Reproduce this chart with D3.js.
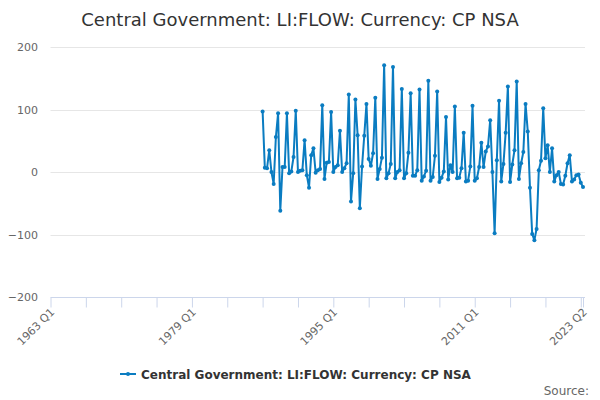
<!DOCTYPE html>
<html>
<head>
<meta charset="utf-8">
<script src="https://cdn.jsdelivr.net/npm/d3@7"></script>
<style>
  body { margin: 0; background: #fff; }
  svg { font-family: "DejaVu Sans", sans-serif; }
</style>
</head>
<body>
<svg width="600" height="400"></svg>
<script>
// axis runs 1963 Q1 .. 2023 Q2, data starts 1987 Q1
var firstYear = 1963, lastYear = 2023, lastQuarter = 2;
var dataStart = "1987 Q1";
var tickLabels = ["1963 Q1", "1979 Q1", "1995 Q1", "2011 Q1", "2023 Q2"];
var yTicks = [-200, -100, 0, 100, 200];
var seriesName = "Central Government: LI:FLOW: Currency: CP NSA";

// quarterly values, 1987 Q1 onwards
var values = [
  97, 7, 6, 35,
  0, -19, 56, 94,
  -62, 8, 8, 94,
  -2, 1, 24, 98,
  0, 2, 3, 51,
  -5, -25, 27, 38,
  -1, 3, 5, 107,
  -11, 15, 16, 96,
  0, 8, 11, 66,
  0, 6, 14, 124,
  -47, -2, 116, 59,
  -58, 9, 58, 109,
  21, 10, 30, 119,
  -11, 5, 23, 171,
  -10, -2, 13, 168,
  -10, 0, 3, 133,
  -10, -2, 31, 126,
  -6, -6, 3, 132,
  -14, -7, 2, 146,
  -14, -8, 26, 129,
  -16, -9, 1, 88,
  -12, 11, 0, 105,
  -10, -9, 6, 63,
  -15, -14, 9, 106,
  -14, -10, 8, 47,
  8, 33, 41, 83,
  0, -98, 19, 114,
  -15, 13, 63, 137,
  -16, 12, 35, 145,
  -11, 14, 32, 109,
  65, -25, -99, -109,
  -91, 3, 18, 102,
  22, 43, 0, 38,
  -15, -5, 0, -19,
  -20, -6, 14, 27,
  -15, -12, -5, -4,
  -17, -24
];

var categories = [];
for (var yr = firstYear; yr <= lastYear; yr++) {
  for (var q = 1; q <= 4; q++) {
    if (yr == lastYear && q > lastQuarter) break;
    categories.push(yr + " Q" + q);
  }
}
var startIdx = categories.indexOf(dataStart);
var points = values.map(function (v, i) { return { cat: categories[startIdx + i], v: v }; });

var svg = d3.select("svg");
var color = "#0a7cc1";

var x = d3.scalePoint().domain(categories).range([50.5, 583]);
var y = d3.scaleLinear().domain([-200, 200]).range([297, 47]);

// title
svg.append("text")
  .attr("x", 300).attr("y", 26)
  .attr("text-anchor", "middle")
  .attr("font-size", 18).attr("fill", "#333333")
  .text(seriesName);

// grid lines
svg.append("g").selectAll("line")
  .data(yTicks.filter(function (d) { return d != -200; }))
  .enter().append("line")
  .attr("x1", 50.5).attr("x2", 585)
  .attr("y1", function (d) { return Math.round(y(d)) + 0.5; })
  .attr("y2", function (d) { return Math.round(y(d)) + 0.5; })
  .attr("stroke", "#e6e6e6").attr("stroke-width", 1);

// y axis labels
var yAxis = svg.append("g")
  .attr("transform", "translate(38,0)")
  .call(d3.axisLeft(y).tickValues(yTicks).tickSize(0).tickPadding(0));
yAxis.select(".domain").remove();
yAxis.selectAll("text")
  .attr("font-size", 11).attr("fill", "#666666")
  .attr("font-family", "DejaVu Sans, sans-serif");

// x axis
var tickVals = categories.filter(function (d, i) { return i % 16 == 0; });
tickVals.push(categories[categories.length - 1]);
var xAxis = svg.append("g")
  .attr("transform", "translate(0,297.5)")
  .call(d3.axisBottom(x).tickValues(tickVals).tickSize(10).tickSizeOuter(0)
    .tickFormat(function (d) { return tickLabels.indexOf(d) >= 0 ? d : ""; }));
xAxis.select(".domain").attr("stroke", "#ccd6eb").attr("d", "M50.5,0H585");
xAxis.selectAll(".tick line").attr("stroke", "#ccd6eb");
xAxis.selectAll(".tick text")
  .attr("font-size", 11).attr("fill", "#666666")
  .attr("font-family", "DejaVu Sans, sans-serif")
  .attr("text-anchor", "end")
  .attr("dy", null)
  .attr("transform", "translate(-5,6) rotate(-45)");

// the series
var line = d3.line()
  .x(function (d) { return x(d.cat); })
  .y(function (d) { return y(d.v); });

svg.append("path")
  .datum(points)
  .attr("d", line)
  .attr("fill", "none")
  .attr("stroke", color)
  .attr("stroke-width", 2)
  .attr("stroke-linejoin", "round");

svg.append("g").selectAll("circle")
  .data(points)
  .enter().append("circle")
  .attr("cx", function (d) { return x(d.cat); })
  .attr("cy", function (d) { return y(d.v); })
  .attr("r", 2)
  .attr("fill", color);

// legend
var lg = svg.append("g").attr("transform", "translate(120,374)");
lg.append("line").attr("x1", 0).attr("x2", 16).attr("y1", 0).attr("y2", 0)
  .attr("stroke", color).attr("stroke-width", 2);
lg.append("circle").attr("cx", 8).attr("cy", 0).attr("r", 2).attr("fill", color);
lg.append("text")
  .attr("x", 21).attr("y", 4.5)
  .attr("font-size", 12).attr("font-weight", "bold").attr("fill", "#333333")
  .text(seriesName);

// credits
svg.append("text")
  .attr("x", 589).attr("y", 395)
  .attr("text-anchor", "end")
  .attr("font-size", 12).attr("fill", "#666666")
  .text("Source:");
</script>
</body>
</html>
